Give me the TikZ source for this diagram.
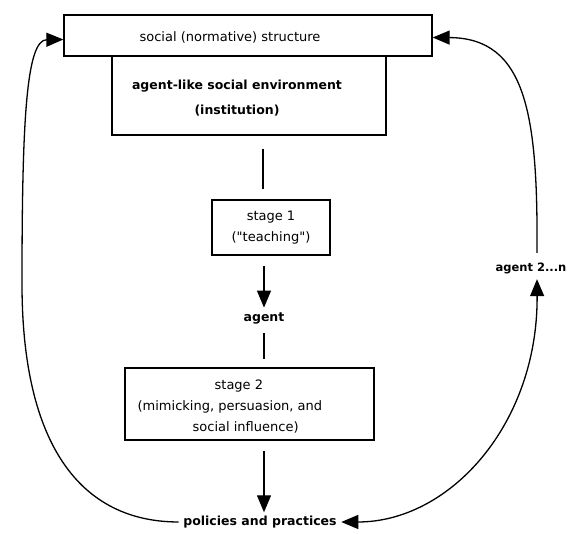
\documentclass[tikz,border=0pt]{standalone}
\usepackage{fontspec}
\setmainfont{DejaVu Sans}[Ligatures=TeXOff]
\usetikzlibrary{arrows.meta}
\begin{document}
\begin{tikzpicture}[x=1pt,y=1pt,
  line width=1.3pt,
  box/.style={draw, inner sep=0pt},
  txt/.style={font=\fontsize{13}{21}\selectfont, align=center, inner sep=1pt},
  btxt/.style={font=\bfseries\fontsize{12.5}{25}\selectfont, align=center, inner sep=1pt},
  tip/.style={-{Triangle[length=17pt,width=14pt]}},
  dtip/.style={{Triangle[length=17pt,width=14pt]}-{Triangle[length=17pt,width=14pt]}}]
\useasboundingbox (0,0) rectangle (568,534);
% boxes
\node[box, minimum width=368pt, minimum height=41pt] (top) at (248,498.5) {};
\node[txt] (toptxt) at (230,497) {social (normative) structure};
\node[box, minimum width=274pt, minimum height=79pt] (inst) at (249,438.5) {};
\node[btxt] (insttxt) at (237,436) {agent-like social environment\\(institution)};
\node[box, txt, minimum width=118pt, minimum height=55pt] (st1) at (271,306.5) {stage 1\\("teaching")};
\node[btxt] (agent) at (264,216) {agent};
\node[box, minimum width=249pt, minimum height=72pt] (st2) at (249.5,130) {};
\node[txt, align=left, anchor=west] (st2txt) at (136,127) {\hspace{77pt}stage 2\\(mimicking, persuasion, and\\\hspace{55pt}social influence)};
\node[btxt] (pol) at (260,12) {policies and practices};
\node[btxt, font=\bfseries\fontsize{11.5}{13}\selectfont] (a2) at (531,266) {agent 2...n};
% vertical connectors
\draw ([xshift=14pt,yshift=-13pt]inst.south) -- ([xshift=-8pt,yshift=10pt]st1.north);
\draw[tip] ([xshift=-7pt,yshift=-10pt]st1.south) -- ([yshift=3pt]agent.north);
\draw ([yshift=-8pt]agent.south) -- ([xshift=14.5pt,yshift=8pt]st2.north);
\draw[tip] ([xshift=14.5pt,yshift=-10pt]st2.south) -- ([xshift=4pt,yshift=2pt]pol.north);
% loops
\draw[tip] ([xshift=-3pt]pol.west) .. controls (80,12) and (22,90) .. (22,250) .. controls (22,410) and (26,494) .. ([yshift=-4pt]top.west);
\draw[tip] ([xshift=6pt,yshift=8pt]a2.north) .. controls (538,420) and (526,496) .. ([yshift=-2pt]top.east);
\draw[dtip] ([xshift=6pt,yshift=-4pt]a2.south) .. controls (538,110) and (450,12) .. ([xshift=3pt]pol.east);
\end{tikzpicture}
\end{document}
